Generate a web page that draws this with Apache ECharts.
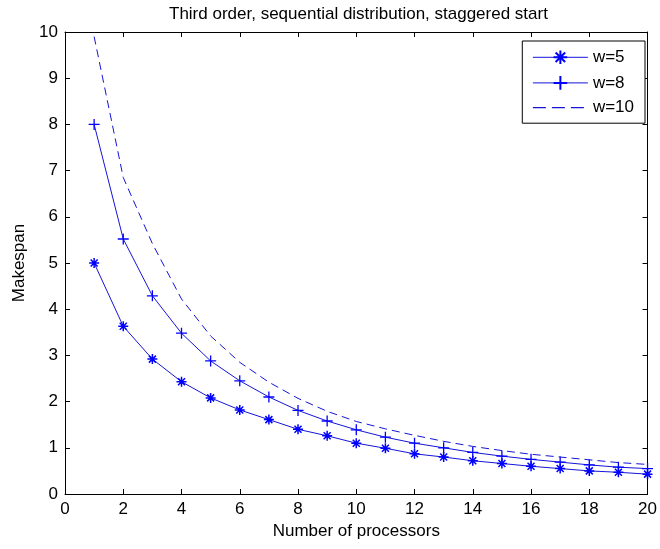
<!DOCTYPE html>
<html><head><meta charset="utf-8">
<script src="https://cdn.jsdelivr.net/npm/echarts@6/dist/echarts.min.js"></script>
<style>html,body{margin:0;padding:0;background:#fff}#c{width:660px;height:549px}</style>
</head><body><div id="c"></div>
<script>
var processors = [1,2,3,4,5,6,7,8,9,10,11,12,13,14,15,16,17,18,19,20];
var w5  = [5.0,3.63,2.92,2.43,2.08,1.82,1.61,1.4,1.26,1.1,0.99,0.87,0.8,0.72,0.66,0.6,0.55,0.5,0.47,0.43];
var w8  = [8.0,5.52,4.29,3.48,2.88,2.45,2.1,1.81,1.58,1.39,1.23,1.1,1.0,0.9,0.82,0.75,0.69,0.63,0.58,0.55];
var w10 = [9.9,6.85,5.42,4.22,3.42,2.85,2.42,2.07,1.79,1.57,1.41,1.27,1.14,1.03,0.94,0.86,0.8,0.74,0.68,0.64];
var seriesNames = ['w=5','w=8','w=10'];

var BLUE = '#1515d8';
var F = 'Liberation Sans, Arial, sans-serif';
var FS = 17;
function pairs(v){ return processors.map(function(p,i){ return [p, v[i]]; }); }
var star = 'path://M5,0 L5,10 M0,5 L10,5 M1.5,1.5 L8.5,8.5 M8.5,1.5 L1.5,8.5';
var plus = 'path://M5,0 L5,10 M0,5 L10,5';

var chart = echarts.init(document.getElementById('c'), null, {renderer:'canvas'});
var axisCommon = {
  axisLine:{show:true, onZero:false, lineStyle:{color:'#000', width:1}},
  axisTick:{show:true, inside:true, length:5, lineStyle:{color:'#000'}},
  splitLine:{show:false}
};
chart.setOption({
  animation:false,
  backgroundColor:'#fff',
  title:{text:'Third order, sequential distribution, staggered start', left:164, top:1,
    textStyle:{fontFamily:F, fontSize:FS, fontWeight:'normal', color:'#000'}},
  grid:{left:65, right:7, top:32, bottom:55},
  legend:{
    right:15, top:41, orient:'vertical', itemWidth:55, itemHeight:17, itemGap:7,
    backgroundColor:'#fff', borderColor:'#000', borderWidth:1, borderRadius:0, padding:[7,11,7,10],
    textStyle:{fontFamily:F, fontSize:FS, color:'#000'},
    lineStyle:{width:1},
    data:[
      {name:seriesNames[0]},
      {name:seriesNames[1]},
      {name:seriesNames[2], itemStyle:{opacity:0}, lineStyle:{type:[13,6], width:1.2}}
    ]
  },
  xAxis:[
    Object.assign({type:'value', min:0, max:20, interval:2, position:'bottom',
      name:'Number of processors', nameLocation:'middle', nameGap:27,
      nameTextStyle:{fontFamily:F, fontSize:FS, color:'#000'},
      axisLabel:{fontFamily:F, fontSize:FS, color:'#000', margin:7}}, axisCommon),
    Object.assign({type:'value', min:0, max:20, interval:2, position:'top',
      axisLabel:{show:false}}, axisCommon)
  ],
  yAxis:[
    Object.assign({type:'value', min:0, max:10, interval:1, position:'left',
      name:'Makespan', nameLocation:'middle', nameGap:36, nameRotate:90,
      nameTextStyle:{fontFamily:F, fontSize:FS, color:'#000'},
      axisLabel:{fontFamily:F, fontSize:FS, color:'#000', margin:7}}, axisCommon),
    Object.assign({type:'value', min:0, max:10, interval:1, position:'right',
      axisLabel:{show:false}}, axisCommon)
  ],
  series:[
    {name:seriesNames[0], type:'line', data:pairs(w5), symbol:star, symbolSize:10, showSymbol:true,
      lineStyle:{color:BLUE, width:1}, itemStyle:{color:'none', borderColor:'#0000ff', borderWidth:1.5}, color:BLUE},
    {name:seriesNames[1], type:'line', data:pairs(w8), symbol:plus, symbolSize:11, showSymbol:true,
      lineStyle:{color:BLUE, width:1}, itemStyle:{color:'none', borderColor:'#0000ff', borderWidth:1.3}, color:BLUE},
    {name:seriesNames[2], type:'line', data:pairs(w10), symbol:'none', showSymbol:false,
      lineStyle:{color:BLUE, width:1, type:[8,5]}, itemStyle:{color:BLUE}, color:BLUE}
  ]
});
</script></body></html>
